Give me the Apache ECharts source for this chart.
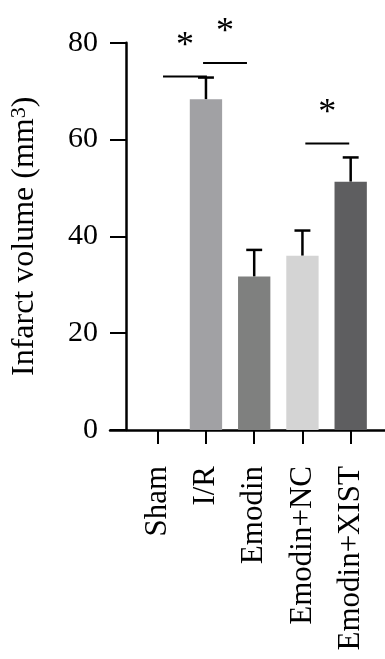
<!DOCTYPE html>
<html><head><meta charset="utf-8">
<script src="https://cdn.jsdelivr.net/npm/echarts@6/dist/echarts.min.js"></script>
<style>html,body{margin:0;padding:0;background:#fff}#c{width:385px;height:659px}</style>
</head><body><div id="c"></div>
<script>
var categories = ['Sham', 'I/R', 'Emodin', 'Emodin+NC', 'Emodin+XIST'];
var means = [0, 68.3, 31.7, 36.0, 51.3];
var upper = [0, 72.8, 37.2, 41.2, 56.3];
var colors = ['#ffffff', '#a1a1a4', '#7f807f', '#d4d4d4', '#5e5e60'];
var yTicks = { min: 0, max: 80, interval: 20 };
var sigStart = [0.11, 0.94, 3.06];
var sigEnd = [1.02, 1.85, 3.97];
var sigY = [73.0, 75.8, 59.2];
var sigLabel = ['*', '*', '*'];

var FONT = 'Liberation Serif';
var chart = echarts.init(document.getElementById('c'), null, { renderer: 'canvas' });

function catX(api, v, y) {
  var base = Math.round(v);
  var p = api.coord([base, y]);
  return [p[0] + (v - base) * api.size([1, 0])[0], p[1]];
}

chart.setOption({
  animation: false,
  backgroundColor: '#ffffff',
  grid: [
    { left: 133.6, right: 10.2, top: 42.7, bottom: 229, containLabel: false },
    { left: 110, right: 0, top: 42.7, bottom: 229, containLabel: false }
  ],
  xAxis: [{
    type: 'category', data: categories, gridIndex: 0,
    axisLine: { show: false },
    axisTick: { show: true, alignWithLabel: true, length: 14, lineStyle: { color: '#000', width: 2 } },
    axisLabel: { rotate: 90, margin: 36, color: '#000', fontFamily: FONT, fontSize: 31, interval: 0 }
  }, {
    type: 'value', gridIndex: 1, min: 0, max: 1,
    axisLine: { show: true, lineStyle: { color: '#000', width: 2.5 } },
    axisTick: { show: false }, axisLabel: { show: false }, splitLine: { show: false }
  }],
  yAxis: [{
    type: 'value', gridIndex: 0, min: yTicks.min, max: yTicks.max, interval: yTicks.interval,
    offset: 7.6,
    name: 'Infarct volume (mm{sup|3})', nameLocation: 'middle', nameRotate: 90, nameGap: 84,
    nameTextStyle: { color: '#000', fontFamily: FONT, fontSize: 32,
      rich: { sup: { fontSize: 22, fontFamily: FONT, color: '#000', verticalAlign: 'top', padding: [0, 0, 12, 0] } } },
    axisLine: { show: true, lineStyle: { color: '#000', width: 2.5 } },
    axisTick: { show: true, length: 16, lineStyle: { color: '#000', width: 2 } },
    axisLabel: { margin: 28, color: '#000', fontFamily: FONT, fontSize: 30 },
    splitLine: { show: false }
  }, {
    type: 'value', gridIndex: 1, show: false, min: 0, max: 1
  }],
  series: [{
    type: 'bar', xAxisIndex: 0, yAxisIndex: 0, barWidth: '67%',
    data: means.map(function (v, i) { return { value: v, itemStyle: { color: colors[i] } }; })
  }, {
    type: 'custom', xAxisIndex: 0, yAxisIndex: 0,
    data: means.map(function (v, i) { return [i, v, upper[i]]; }),
    renderItem: function (params, api) {
      var i = api.value(0), m = api.value(1), u = api.value(2);
      if (u <= m) return null;
      var p0 = api.coord([i, m]), p1 = api.coord([i, u]);
      var half = api.size([1, 0])[0] * 0.165;
      return { type: 'group', children: [
        { type: 'line', shape: { x1: p0[0], y1: p0[1], x2: p1[0], y2: p1[1] }, style: { stroke: '#000', lineWidth: 2.5 } },
        { type: 'line', shape: { x1: p1[0] - half, y1: p1[1], x2: p1[0] + half, y2: p1[1] }, style: { stroke: '#000', lineWidth: 2.5 } }
      ] };
    }
  }, {
    type: 'custom', xAxisIndex: 0, yAxisIndex: 0,
    data: sigY.map(function (y, k) { return [sigStart[k], sigEnd[k], y]; }),
    renderItem: function (params, api) {
      var k = params.dataIndex;
      var a = catX(api, sigStart[k], sigY[k]), b = catX(api, sigEnd[k], sigY[k]);
      return { type: 'group', children: [
        { type: 'line', shape: { x1: a[0], y1: a[1], x2: b[0], y2: b[1] }, style: { stroke: '#000', lineWidth: 2 } },
        { type: 'text', x: (a[0] + b[0]) / 2, y: a[1] - 30,
          style: { text: sigLabel[k], fill: '#000', font: '36px "' + FONT + '"', align: 'center', verticalAlign: 'middle' } }
      ] };
    }
  }]
});
</script></body></html>
